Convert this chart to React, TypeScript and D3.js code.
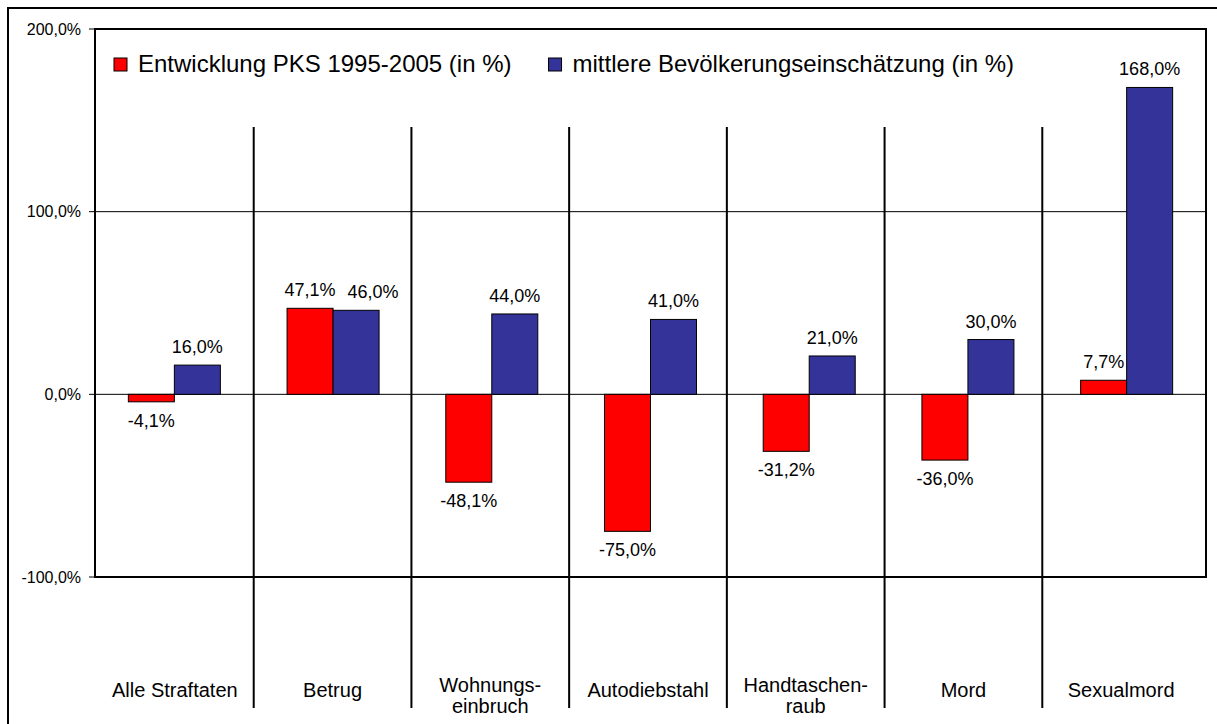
import * as d3 from 'd3';
import { useEffect, useRef } from 'react';

// Werte
const categories = ['Alle Straftaten', 'Betrug', 'Wohnungs-\neinbruch', 'Autodiebstahl', 'Handtaschen-\nraub', 'Mord', 'Sexualmord'];
const pksValues = [-4.1, 47.1, -48.1, -75.0, -31.2, -36.0, 7.7];
const estimateValues = [16.0, 46.0, 44.0, 41.0, 21.0, 30.0, 168.0];
const seriesKeys = ['pks', 'est'];
const seriesNames = ['Entwicklung PKS 1995-2005 (in %)', 'mittlere Bevölkerungseinschätzung (in %)'];
const seriesColors = ['#ff0000', '#333399'];
const yTicks = [-100, 0, 100, 200];

const W = 1217;
const H = 724;
const FONT = '"Liberation Sans", Arial, sans-serif';

const fmt = (v: number) => v.toFixed(1).replace('.', ',') + '%';

const CrimeChart = () => {
  const ref = useRef<SVGSVGElement | null>(null);

  useEffect(() => {
    if (!ref.current) return;
    const svg = d3.select(ref.current);
    svg.selectAll('*').remove();

    const plot = { left: 95, right: 1206, top: 29, bottom: 577 };

    const y = d3.scaleLinear().domain([-100, 200]).range([plot.bottom, plot.top]);
    const x0 = d3.scaleBand<string>().domain(categories).range([plot.left, plot.right]);
    const x1 = d3.scaleBand<string>().domain(seriesKeys).range([0, x0.bandwidth()]).paddingOuter(0.725);
    // Trennlinien / Beschriftungen liegen etwas anders als die Kategorien
    const xs = d3.scaleBand<string>().domain(categories).range([96, 1200]);

    // outer frame
    svg.append('rect')
      .attr('x', 8).attr('y', 8)
      .attr('width', W).attr('height', H)
      .attr('fill', 'none').attr('stroke', '#000').attr('stroke-width', 2);

    // plot area
    svg.append('rect')
      .attr('x', plot.left).attr('y', plot.top)
      .attr('width', plot.right - plot.left).attr('height', plot.bottom - plot.top)
      .attr('fill', '#fff').attr('stroke', '#000').attr('stroke-width', 2);

    // gridlines
    svg.selectAll('.grid')
      .data(yTicks.filter((t) => t !== 200 && t !== -100))
      .enter()
      .append('line')
      .attr('x1', plot.left).attr('x2', plot.right)
      .attr('y1', (d) => y(d)).attr('y2', (d) => y(d))
      .attr('stroke', '#000').attr('stroke-width', 1);

    // y axis ticks + labels
    const yAxis = svg.append('g');
    yTicks.forEach((t) => {
      yAxis.append('line')
        .attr('x1', plot.left - 6).attr('x2', plot.left)
        .attr('y1', y(t)).attr('y2', y(t))
        .attr('stroke', '#000');
      yAxis.append('text')
        .attr('x', 81).attr('y', y(t) + 5.5)
        .attr('text-anchor', 'end')
        .attr('font-family', FONT).attr('font-size', 16)
        .text(fmt(t));
    });

    const rows = categories.map((c, i) => ({ cat: c, vals: [pksValues[i], estimateValues[i]] }));

    // bars
    rows.forEach((r) => {
      r.vals.forEach((v, j) => {
        const bx = (x0(r.cat) || 0) + (x1(seriesKeys[j]) || 0);
        svg.append('rect')
          .attr('x', bx)
          .attr('y', y(Math.max(0, v)))
          .attr('width', x1.bandwidth())
          .attr('height', Math.abs(y(v) - y(0)))
          .attr('fill', seriesColors[j])
          .attr('stroke', '#000').attr('stroke-width', 1);
      });
    });

    // value labels
    rows.forEach((r) => {
      const close = r.vals[0] >= 0 && r.vals[1] >= 0 && Math.abs(y(r.vals[0]) - y(r.vals[1])) < 20;
      r.vals.forEach((v, j) => {
        const cx = (x0(r.cat) || 0) + (x1(seriesKeys[j]) || 0) + x1.bandwidth() / 2 + (close && j === 1 ? 17 : 0);
        const ly = v >= 0 ? y(v) - 12 : y(v) + 25;
        svg.append('text')
          .attr('x', cx).attr('y', ly)
          .attr('text-anchor', 'middle')
          .attr('font-family', FONT).attr('font-size', 18)
          .text(fmt(v));
      });
    });

    // separators
    svg.selectAll('.sep')
      .data(categories.slice(1))
      .enter()
      .append('line')
      .attr('x1', (d) => xs(d) || 0).attr('x2', (d) => xs(d) || 0)
      .attr('y1', 127).attr('y2', 708)
      .attr('stroke', '#000').attr('stroke-width', 2);

    // category labels
    categories.forEach((c) => {
      const lines = c.split('\n');
      const t = svg.append('text')
        .attr('text-anchor', 'middle')
        .attr('font-family', FONT).attr('font-size', 20);
      lines.forEach((ln, k) => {
        t.append('tspan')
          .attr('x', (xs(c) || 0) + xs.bandwidth() / 2)
          .attr('y', lines.length > 1 ? 692 + k * 21 : 697)
          .text(ln);
      });
    });

    // legend
    let lx = 114;
    seriesNames.forEach((name, j) => {
      svg.append('rect')
        .attr('x', lx).attr('y', 58)
        .attr('width', 13).attr('height', 13)
        .attr('fill', seriesColors[j])
        .attr('stroke', '#000').attr('stroke-width', 1);
      const txt = svg.append('text')
        .attr('x', lx + 24).attr('y', 72)
        .attr('font-family', FONT).attr('font-size', 24)
        .text(name);
      const w = (txt.node() as SVGTextElement).getComputedTextLength();
      lx = lx + 24 + w + 37;
    });
  }, []);

  return <svg ref={ref} width={W} height={H} style={{ position: 'absolute', left: 0, top: 0, background: '#fff' }} />;
};

export default function App() {
  return <CrimeChart />;
}
